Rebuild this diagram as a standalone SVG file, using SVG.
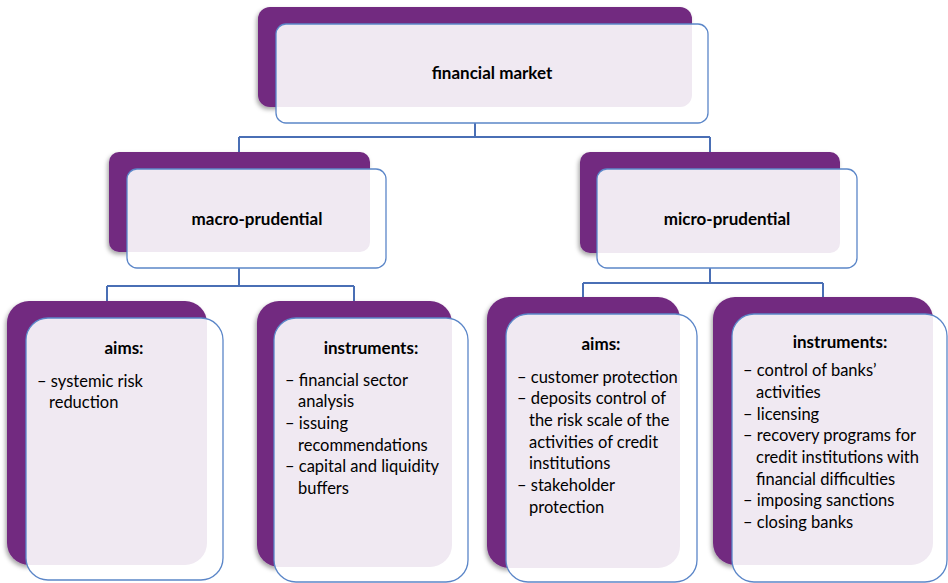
<svg xmlns="http://www.w3.org/2000/svg" width="948" height="583" viewBox="0 0 948 583">
<style>
.back{fill:#722A80;filter:url(#sh)}
.front{fill:#ffffff}
.tint{fill:#F0E9F2}
.edge{fill:none;stroke:#5B86C8;stroke-width:1.3}
.conn{fill:none;stroke:#4A6FB5;stroke-width:2}
text{font-family:Lato,"Liberation Sans",sans-serif;fill:#000}
.t{font-weight:bold;font-size:17px;text-anchor:middle}
.b{font-size:16.5px}
</style>
<defs>
<filter id="sh" x="-10%" y="-10%" width="120%" height="120%">
<feDropShadow dx="-1.5" dy="2.5" stdDeviation="2" flood-color="#000" flood-opacity="0.35"/>
</filter>
<clipPath id="c0"><rect x="276" y="24" width="432" height="99" rx="10"/></clipPath>
<clipPath id="c1"><rect x="127" y="169" width="259" height="99" rx="10"/></clipPath>
<clipPath id="c2"><rect x="597" y="169" width="260" height="99" rx="10"/></clipPath>
<clipPath id="c3"><rect x="26" y="318" width="197" height="262" rx="22"/></clipPath>
<clipPath id="c4"><rect x="274" y="318" width="194" height="264" rx="22"/></clipPath>
<clipPath id="c5"><rect x="506" y="314" width="191" height="268" rx="22"/></clipPath>
<clipPath id="c6"><rect x="732" y="314" width="215" height="268" rx="22"/></clipPath>
</defs>

<g id="connectors">
<path class="conn" d="M475 123V137M239 137H710M239 137V152M710 137V152"/>
<path class="conn" d="M239 268V286M107 286H354M107 286V301M354 286V301"/>
<path class="conn" d="M710 268V283M583 283H823M583 283V297M823 283V297"/>
</g>

<g id="financial-market">
<rect class="back" x="258" y="7" width="434" height="100" rx="12"/>
<rect class="front" x="276" y="24" width="432" height="99" rx="10"/>
<rect class="tint" x="258" y="7" width="434" height="100" rx="12" clip-path="url(#c0)"/>
<rect class="edge" x="276" y="24" width="432" height="99" rx="10"/>
<text class="t" x="492" y="79">financial market</text>
</g>

<g id="macro-prudential">
<rect class="back" x="109" y="152" width="261" height="100" rx="10"/>
<rect class="front" x="127" y="169" width="259" height="99" rx="10"/>
<rect class="tint" x="109" y="152" width="261" height="100" rx="10" clip-path="url(#c1)"/>
<rect class="edge" x="127" y="169" width="259" height="99" rx="10"/>
<text class="t" x="257" y="224.5">macro-prudential</text>
</g>

<g id="micro-prudential">
<rect class="back" x="580" y="152" width="260" height="101" rx="10"/>
<rect class="front" x="597" y="169" width="260" height="99" rx="10"/>
<rect class="tint" x="580" y="152" width="260" height="101" rx="10" clip-path="url(#c2)"/>
<rect class="edge" x="597" y="169" width="260" height="99" rx="10"/>
<text class="t" x="727" y="224.5">micro-prudential</text>
</g>

<g id="macro-aims">
<rect class="back" x="7" y="301" width="200" height="264" rx="22"/>
<rect class="front" x="26" y="318" width="197" height="262" rx="22"/>
<rect class="tint" x="7" y="301" width="200" height="264" rx="22" clip-path="url(#c3)"/>
<rect class="edge" x="26" y="318" width="197" height="262" rx="22"/>
<text class="t" x="124" y="353.5">aims:</text>
<text class="b" x="37" y="386.5">– systemic risk</text>
<text class="b" x="49" y="408">reduction</text>
</g>

<g id="macro-instruments">
<rect class="back" x="257" y="301" width="195" height="266" rx="22"/>
<rect class="front" x="274" y="318" width="194" height="264" rx="22"/>
<rect class="tint" x="257" y="301" width="195" height="266" rx="22" clip-path="url(#c4)"/>
<rect class="edge" x="274" y="318" width="194" height="264" rx="22"/>
<text class="t" x="371" y="353.5">instruments:</text>
<text class="b" x="285" y="385.5">– financial sector</text>
<text class="b" x="298" y="407.2">analysis</text>
<text class="b" x="285" y="428.8">– issuing</text>
<text class="b" x="298" y="450.5">recommendations</text>
<text class="b" x="285" y="472.2">– capital and liquidity</text>
<text class="b" x="298" y="493.8">buffers</text>
</g>

<g id="micro-aims">
<rect class="back" x="487" y="297" width="193" height="271" rx="22"/>
<rect class="front" x="506" y="314" width="191" height="268" rx="22"/>
<rect class="tint" x="487" y="297" width="193" height="271" rx="22" clip-path="url(#c5)"/>
<rect class="edge" x="506" y="314" width="191" height="268" rx="22"/>
<text class="t" x="601" y="349.5">aims:</text>
<text class="b" x="517" y="383.2">– customer protection</text>
<text class="b" x="517" y="403.8">– deposits control of</text>
<text class="b" x="529" y="425.5">the risk scale of the</text>
<text class="b" x="529" y="447.8">activities of credit</text>
<text class="b" x="529" y="468.8">institutions</text>
<text class="b" x="517" y="491.2">– stakeholder</text>
<text class="b" x="529" y="512.8">protection</text>
</g>

<g id="micro-instruments">
<rect class="back" x="713" y="297" width="220" height="268" rx="22"/>
<rect class="front" x="732" y="314" width="215" height="268" rx="22"/>
<rect class="tint" x="713" y="297" width="220" height="268" rx="22" clip-path="url(#c6)"/>
<rect class="edge" x="732" y="314" width="215" height="268" rx="22"/>
<text class="t" x="840" y="347.5">instruments:</text>
<text class="b" x="743" y="376.2">– control of banks’</text>
<text class="b" x="756" y="397.8">activities</text>
<text class="b" x="743" y="419.5">– licensing</text>
<text class="b" x="743" y="441.2">– recovery programs for</text>
<text class="b" x="756" y="462.8">credit institutions with</text>
<text class="b" x="756" y="484.5">financial difficulties</text>
<text class="b" x="743" y="506.2">– imposing sanctions</text>
<text class="b" x="743" y="527.8">– closing banks</text>
</g>
</svg>
